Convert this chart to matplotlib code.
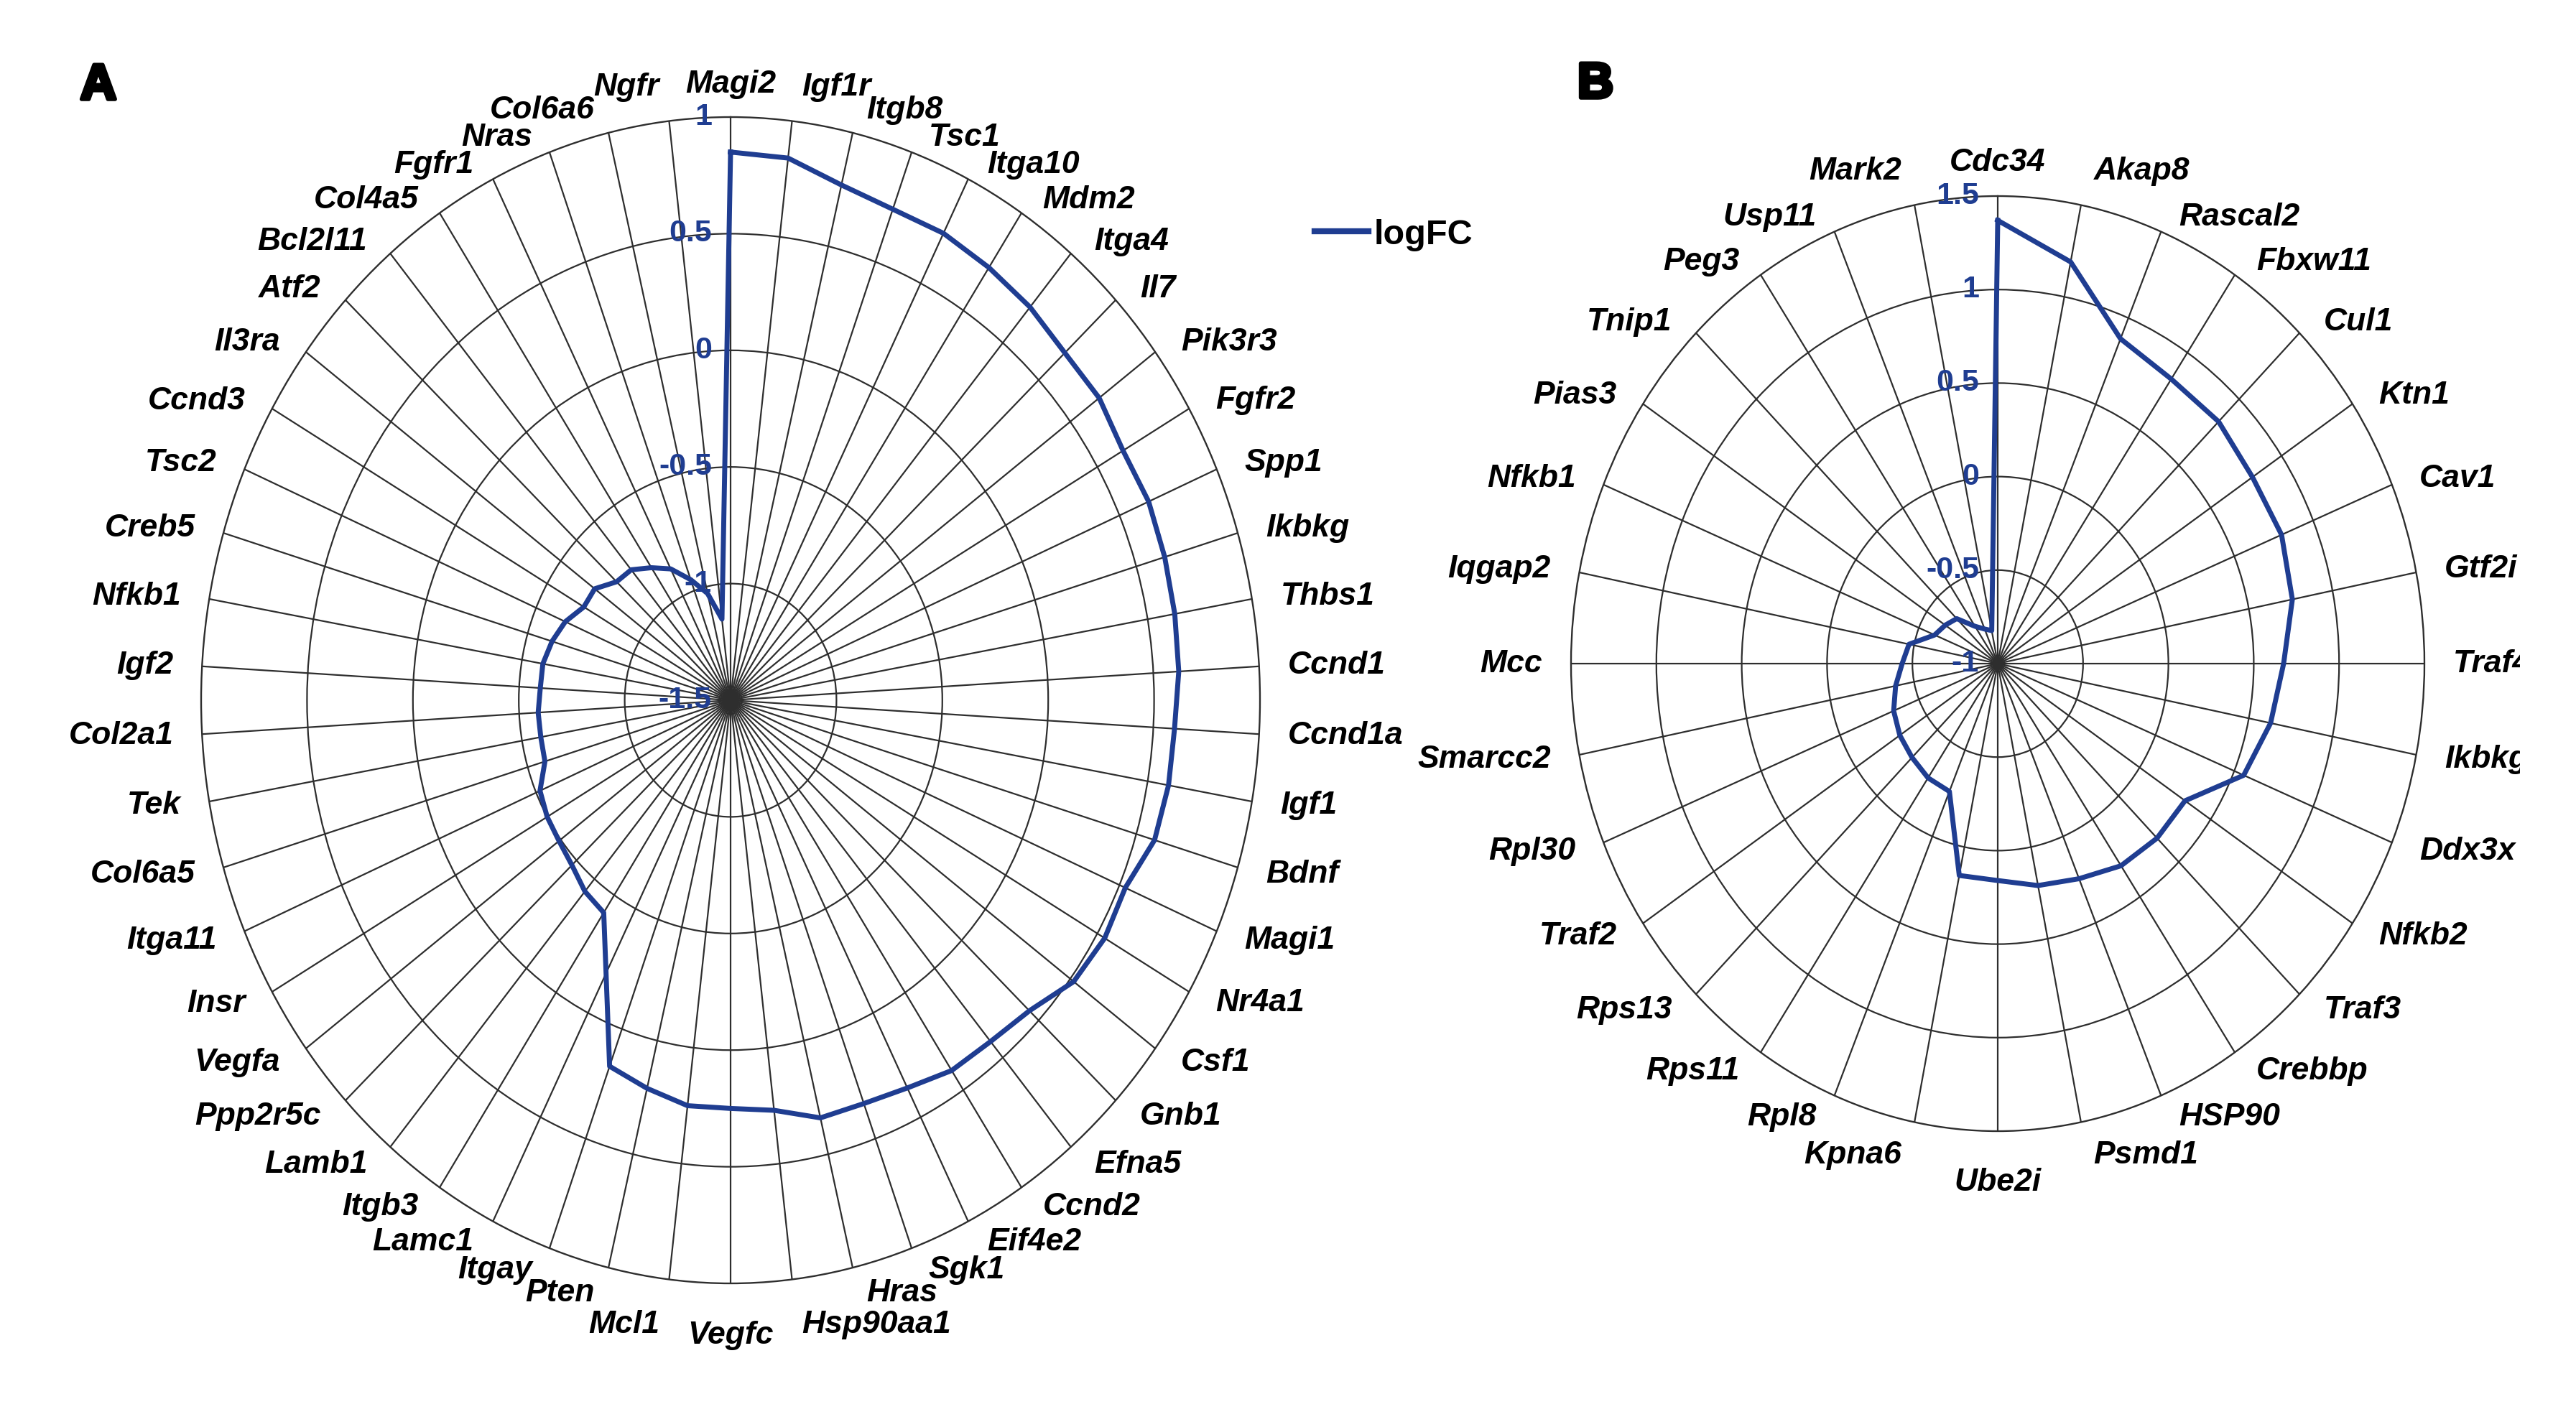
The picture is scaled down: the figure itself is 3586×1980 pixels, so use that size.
import numpy as np
import matplotlib
matplotlib.use('Agg')
import matplotlib.pyplot as plt
from matplotlib.lines import Line2D
from matplotlib.patches import Rectangle
import matplotlib.patheffects as pe

# panel A genes, clockwise from the top
genes_a = ['Magi2', 'Igf1r', 'Itgb8', 'Tsc1', 'Itga10', 'Mdm2', 'Itga4', 'Il7', 'Pik3r3',
           'Fgfr2', 'Spp1', 'Ikbkg', 'Thbs1', 'Ccnd1', 'Ccnd1a', 'Igf1', 'Bdnf', 'Magi1',
           'Nr4a1', 'Csf1', 'Gnb1', 'Efna5', 'Ccnd2', 'Eif4e2', 'Sgk1', 'Hras', 'Hsp90aa1',
           'Vegfc', 'Mcl1', 'Pten', 'Itgay', 'Lamc1', 'Itgb3', 'Lamb1', 'Ppp2r5c', 'Vegfa',
           'Insr', 'Itga11', 'Col6a5', 'Tek', 'Col2a1', 'Igf2', 'Nfkb1', 'Creb5', 'Tsc2',
           'Ccnd3', 'Il3ra', 'Atf2', 'Bcl2l11', 'Col4a5', 'Fgfr1', 'Nras', 'Col6a6', 'Ngfr']
logfc_a = [0.85, 0.84, 0.77, 0.74, 0.74, 0.72, 0.70, 0.67, 0.67,
           0.64, 0.65, 0.64, 0.63, 0.62, 0.60, 0.60, 0.59, 0.53,
           0.54, 0.52, 0.44, 0.41, 0.40, 0.36, 0.34, 0.34, 0.27,
           0.25, 0.25, 0.21, 0.17, -0.19, -0.41, -0.43, -0.47, -0.49,
           -0.50, -0.52, -0.585, -0.59, -0.59, -0.60, -0.60, -0.62, -0.65,
           -0.70, -0.70, -0.76, -0.77, -0.82, -0.87, -0.95, -1.03, -1.15]
ticks_a = [-1.5, -1, -0.5, 0, 0.5, 1]

# panel B genes, clockwise from the top
genes_b = ['Cdc34', 'Akap8', 'Rascal2', 'Fbxw11', 'Cul1', 'Ktn1', 'Cav1', 'Gtf2i',
           'Traf4', 'Ikbkg', 'Ddx3x', 'Nfkb2', 'Traf3', 'Crebbp', 'HSP90', 'Psmd1',
           'Ube2i', 'Kpna6', 'Rpl8', 'Rps11', 'Rps13', 'Traf2', 'Rpl30', 'Smarcc2',
           'Mcc', 'Iqgap2', 'Nfkb1', 'Pias3', 'Tnip1', 'Peg3', 'Usp11', 'Mark2']
logfc_b = [1.37, 1.19, 0.88, 0.83, 0.83, 0.795, 0.80, 0.76,
           0.675, 0.63, 0.56, 0.32, 0.32, 0.30, 0.245, 0.21,
           0.16, 0.155, -0.26, -0.265, -0.29, -0.31, -0.34, -0.39,
           -0.44, -0.47, -0.60, -0.63, -0.66, -0.76, -0.80, -0.82]
ticks_b = [-1, -0.5, 0, 0.5, 1, 1.5]

W, H = 3586, 1980
BLUE = '#1f3d91'
GRID = '#2e2e2e'
FONT = ['Liberation Sans', 'DejaVu Sans']
FS = 32
PX = 72 / 100  # pixels -> points

fig = plt.figure(figsize=(W / 100, H / 100), dpi=100)


def label_offset(s, c):
    # Excel-like placement of category labels round the ring (pixels)
    if abs(s) < 1e-6:
        return 'center', 0.0, (46.0 if c > 0 else -72.0)
    ha = 'left' if s > 0 else 'right'
    dx = np.sign(s) * 40 * np.sqrt(abs(s))
    if c >= 0:
        lift = 25 if abs(s) < 0.2 else (10 if abs(s) < 0.25 else 0)
        dy = 22 * c + lift
    else:
        drop = 40 * (abs(c) - 0.97) / 0.03 if abs(c) > 0.97 else 0
        dy = 32 * c - drop
    return ha, dx, dy


def radar(cx, cy, rx, ry, genes, vals, ticks):
    # axes box stretched to an ellipse, like the reference
    ax = fig.add_axes([(cx - rx) / W, 1 - (cy + ry) / H, 2 * rx / W, 2 * ry / H],
                      projection='polar')
    ax.set_aspect('auto')
    ax.set_theta_zero_location('N')
    ax.set_theta_direction(-1)
    n = len(genes)
    theta = np.arange(n) * 2 * np.pi / n
    ax.set_ylim(ticks[0], ticks[-1])
    ax.set_xticks(theta)
    ax.set_xticklabels([])
    ax.set_yticks(ticks[1:-1])
    ax.set_yticklabels([])
    ax.grid(True, color=GRID, lw=1.6)
    ax.spines['polar'].set_color(GRID)
    ax.spines['polar'].set_linewidth(1.7)
    ax.tick_params(length=0, pad=0)

    t = np.append(theta, theta[0])
    v = np.append(vals, vals[0])
    line, = ax.plot(t, v, color=BLUE, lw=5, zorder=5)

    # radial value labels along the top spoke
    for r in ticks:
        ax.annotate(f'{r:g}', xy=(0, r), xytext=(-26 * PX, 0), textcoords='offset points',
                    ha='right', va='center', color=BLUE, fontsize=31, fontweight='bold',
                    family=FONT, annotation_clip=False, zorder=6)

    # gene labels around the outer ring
    for th, g in zip(theta, genes):
        ha, dx, dy = label_offset(np.sin(th), np.cos(th))
        ax.annotate(g, xy=(th, ticks[-1]), xytext=(dx * PX, dy * PX), textcoords='offset points',
                    ha=ha, va='center', fontsize=FS, fontweight='bold', fontstyle='italic',
                    family=FONT, color='black', annotation_clip=False)
    return ax, line


ax_a, line_a = radar(1017, 975, 737, 812, genes_a, logfc_a, ticks_a)
ax_b, line_b = radar(2781, 924, 594, 651, genes_b, logfc_b, ticks_b)

fig.legend(handles=[Line2D([], [], color=BLUE, lw=6)], labels=['logFC'],
           loc='center left', bbox_to_anchor=(1830 / W, 1 - 327 / H), frameon=False,
           borderpad=0, borderaxespad=0, handlelength=1.55, handletextpad=0.15,
           prop={'family': FONT, 'weight': 'bold', 'size': 35})

for x, y, s in [(137, 120, 'A'), (2221, 118, 'B')]:
    fig.text(x / W, 1 - y / H, s, ha='center', va='center', fontsize=50, fontweight='bold',
             family=FONT, color='black',
             path_effects=[pe.withStroke(linewidth=4, foreground='black')])

# the reference picture is cut off at the right
fig.patches.append(Rectangle((3508 / W, 0), 1, 1, transform=fig.transFigure,
                             facecolor='white', edgecolor='none', zorder=20))

fig.savefig('out.png', dpi=100, facecolor='white')
